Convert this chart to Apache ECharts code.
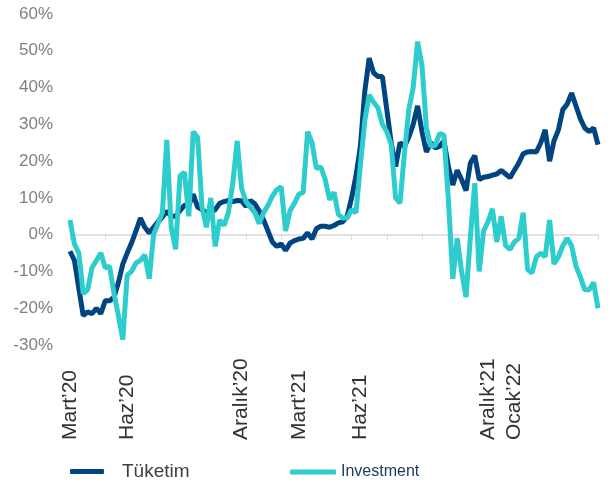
<!DOCTYPE html>
<html>
<head>
<meta charset="utf-8">
<script src="https://cdn.jsdelivr.net/npm/echarts@6/dist/echarts.min.js"></script>
<style>
  html, body { margin: 0; padding: 0; background: #ffffff; }
  #chart { width: 613px; height: 489px; }
</style>
</head>
<body>
<div id="chart"></div>
<script>
// values in %, one point roughly every 4.4px
const tuketim = [
  -4.5, -7, -14.5, -22, -21, -21.5, -20, -21.5, -18, -18,
  -17, -13, -8, -5, -2.2, 1, 4.5, 2, 0.5, 2,
  3.5, 4.8, 6.4, 5, 5, 6.5, 8, 8, 11, 7.5,
  6.8, 6, 6.2, 6.8, 8.5, 9, 9.3, 9, 9.3, 9.2,
  7.7, 9.3, 8.4, 6.5, 4, 1, -2, -3.2, -2.5, -4.3,
  -2.3, -1.6, -1.2, -1, 0.5, -1.2, 1.6, 2.3, 2.3, 2,
  2.5, 3.2, 3.5, 5, 10, 16, 24, 39, 48, 44,
  43, 43, 34, 25, 18.5, 25, 24, 26.5, 30, 35,
  28, 22.5, 25, 23.6, 24, 25.5, 18.5, 13.5, 17.5, 15,
  12, 19.5, 21.5, 15, 15.6, 15.8, 16.2, 16.5, 17.5, 16.5,
  15.5, 17.5, 19.5, 22, 22.5, 22.6, 22.5, 25, 28.5, 20,
  25.5, 28.5, 34, 35.5, 38.5, 35, 31.5, 29, 28, 29,
  24.5
]
const investment = [
  4, -2.5, -5, -16, -15, -9, -7, -5, -9, -8.6,
  -16, -22, -28.5, -11, -10, -7.7, -7, -5.5, -12, 0,
  3, 6, 25.8, 2, -4, 16, 17, 5, 28, 26.5,
  7.5, 2, 10, -3.2, 4, 2.5, 6, 14, 25.5, 12.5,
  9, 7.5, 6, 3, 6, 8, 10.5, 12.2, 13, 1,
  6.5, 8.5, 11, 11.5, 28, 25, 18, 18.4, 15, 9.5,
  11.5, 5.5, 4.5, 4.5, 6.8, 6, 19, 31, 38, 36,
  34.5, 30, 28, 24.5, 10, 8.6, 22, 34, 40, 52.5,
  46, 29, 24, 24.3, 27.5, 27, 9.5, -12, -1, -10,
  -17, -0.5, 14, -10, 1, 3.5, 7, -2, 5, -3,
  -4, -2, -1, 6, -9.5, -10.4, -6, -5, -6, 4,
  -8, -6, -3, -1, -3, -8.6, -11.5, -15, -15, -13,
  -20
]
const tickLabels = ["Mart’20", "Haz’20", "Aralık’20", "Mart’21", "Haz’21", "Aralık’21", "Ocak’22"]
const tickIndex = [0, 13, 39, 52, 66, 95, 101]
const categories = tuketim.map((v, i) => String(i))

const chart = echarts.init(document.getElementById("chart"))
chart.setOption({
  animation: false,
  color: ["#004481", "#2DCCCD"],
  grid: { left: 70, right: 15, top: 14, bottom: 144, outerBoundsMode: "none" },
  legend: [
    {
      data: [{ name: "Tüketim", icon: "roundRect" }],
      left: 65,
      top: 457,
      itemWidth: 34,
      itemHeight: 5,
      textStyle: {
        fontFamily: "Liberation Sans",
        fontSize: 19,
        color: "#404040",
        padding: [0, 0, 0, 13]
      }
    },
    {
      data: [{ name: "Investment", icon: "roundRect" }],
      left: 285,
      top: 459,
      itemWidth: 46,
      itemHeight: 5,
      textStyle: {
        fontFamily: "Liberation Sans",
        fontSize: 16,
        color: "#1f3b63"
      }
    }
  ],
  xAxis: {
    type: "category",
    data: categories,
    boundaryGap: false,
    axisLine: { onZero: true, lineStyle: { color: "#d9d9d9", width: 1.5 } },
    axisTick: { interval: 7, length: 5, lineStyle: { color: "#d9d9d9" } },
    axisLabel: {
      interval: (i) => tickIndex.includes(i),
      formatter: (v, i) => tickLabels[tickIndex.indexOf(i)] || "",
      rotate: 90,
      align: "left",
      margin: 95,
      fontFamily: "Liberation Sans",
      fontSize: 21,
      color: "#333333"
    }
  },
  yAxis: {
    type: "value",
    min: -30,
    max: 60,
    interval: 10,
    splitLine: { show: false },
    axisLine: { show: false },
    axisTick: { show: false },
    axisLabel: {
      formatter: "{value}%",
      margin: 17,
      fontFamily: "Liberation Sans",
      fontSize: 17,
      color: "#808080"
    }
  },
  series: [
    {
      name: "Tüketim",
      type: "line",
      data: tuketim,
      showSymbol: false,
      lineStyle: { width: 5 }
    },
    {
      name: "Investment",
      type: "line",
      data: investment,
      showSymbol: false,
      lineStyle: { width: 5 }
    }
  ]
})
</script>
</body>
</html>
